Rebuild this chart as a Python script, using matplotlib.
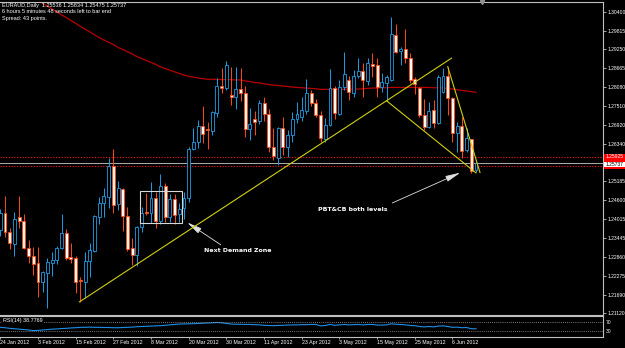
import matplotlib
matplotlib.use('Agg')
import matplotlib.pyplot as plt
from matplotlib.patches import Rectangle
import numpy as np

# ---------------- data (EURAUD daily) ----------------
tick_labels = ["24 Jan 2012", "3 Feb 2012", "15 Feb 2012", "27 Feb 2012", "8 Mar 2012",
               "20 Mar 2012", "30 Mar 2012", "11 Apr 2012", "23 Apr 2012", "3 May 2012",
               "15 May 2012", "25 May 2012", "6 Jun 2012"]
tick_bars = [0, 8, 16, 24, 32, 40, 48, 56, 64, 72, 80, 88, 96]

opens = [1.2368, 1.2420, 1.2361, 1.2324, 1.2407, 1.2396, 1.2312, 1.2289, 1.2266, 1.2209,
         1.2237, 1.2266, 1.2276, 1.2312, 1.2360, 1.2284, 1.2281, 1.2214, 1.2209, 1.2273,
         1.2305, 1.2409, 1.2450, 1.2471, 1.2565, 1.2447, 1.2494, 1.2411, 1.2312, 1.2291,
         1.2378, 1.2424, 1.2420, 1.2468, 1.2396, 1.2505, 1.2409, 1.2463, 1.2417, 1.2437,
         1.2468, 1.2617, 1.2638, 1.2689, 1.2678, 1.2673, 1.2729, 1.2811, 1.2804, 1.2783,
         1.2778, 1.2802, 1.2789, 1.2678, 1.2709, 1.2705, 1.2760, 1.2724, 1.2625, 1.2590,
         1.2682, 1.2625, 1.2661, 1.2709, 1.2717, 1.2735, 1.2789, 1.2760, 1.2722, 1.2647,
         1.2691, 1.2804, 1.2725, 1.2807, 1.2830, 1.2791, 1.2842, 1.2858, 1.2828, 1.2879,
         1.2876, 1.2807, 1.2822, 1.2830, 1.2968, 1.2919, 1.2924, 1.2897, 1.2832, 1.2804,
         1.2722, 1.2686, 1.2738, 1.2697, 1.2794, 1.2842, 1.2774, 1.2666, 1.2688, 1.2614,
         1.2647, 1.25536]
highs = [1.2433, 1.2474, 1.2374, 1.2423, 1.2474, 1.2418, 1.2338, 1.2317, 1.2317, 1.2243,
         1.2281, 1.2300, 1.2320, 1.2417, 1.2371, 1.2329, 1.2288, 1.2225, 1.2300, 1.2327,
         1.2414, 1.2471, 1.2497, 1.2589, 1.2617, 1.2520, 1.2498, 1.2439, 1.2343, 1.2381,
         1.2440, 1.2482, 1.2515, 1.2484, 1.2541, 1.2512, 1.2479, 1.2479, 1.2452, 1.2486,
         1.2625, 1.2681, 1.2707, 1.2750, 1.2701, 1.2735, 1.2835, 1.2866, 1.2888, 1.2871,
         1.2871, 1.2866, 1.2811, 1.2743, 1.2735, 1.2768, 1.2778, 1.2740, 1.2681, 1.2686,
         1.2715, 1.2676, 1.2731, 1.2762, 1.2778, 1.2832, 1.2799, 1.2770, 1.2733, 1.2712,
         1.2863, 1.2811, 1.2830, 1.2917, 1.2842, 1.2861, 1.2897, 1.2881, 1.2897, 1.2912,
         1.2897, 1.2850, 1.2845, 1.3023, 1.3002, 1.2932, 1.2986, 1.2912, 1.2840, 1.2809,
         1.2770, 1.2763, 1.2768, 1.2845, 1.2866, 1.2871, 1.2778, 1.2701, 1.2715, 1.2682,
         1.2648, 1.25834]
lows = [1.2350, 1.2348, 1.2309, 1.2289, 1.2374, 1.2310, 1.2268, 1.2230, 1.2163, 1.2177,
        1.2129, 1.2228, 1.2263, 1.2310, 1.2276, 1.2268, 1.2174, 1.2147, 1.2160, 1.2225,
        1.2301, 1.2387, 1.2409, 1.2435, 1.2422, 1.2430, 1.2366, 1.2304, 1.2261, 1.2258,
        1.2363, 1.2414, 1.2391, 1.2374, 1.2386, 1.2392, 1.2392, 1.2387, 1.2394, 1.2401,
        1.2455, 1.2614, 1.2620, 1.2637, 1.2617, 1.2661, 1.2717, 1.2789, 1.2799, 1.2753,
        1.2741, 1.2765, 1.2655, 1.2645, 1.2660, 1.2694, 1.2705, 1.2609, 1.2584, 1.2568,
        1.2599, 1.2594, 1.2639, 1.2699, 1.2704, 1.2725, 1.2750, 1.2715, 1.2640, 1.2640,
        1.2688, 1.2709, 1.2722, 1.2799, 1.2768, 1.2777, 1.2836, 1.2778, 1.2814, 1.2840,
        1.2778, 1.2793, 1.2768, 1.2828, 1.2914, 1.2876, 1.2882, 1.2820, 1.2787, 1.2717,
        1.2676, 1.2681, 1.2681, 1.2694, 1.2790, 1.2722, 1.2639, 1.2609, 1.2590, 1.2608,
        1.2545, 1.25475]
closes = [1.2421, 1.2361, 1.2327, 1.2402, 1.2396, 1.2312, 1.2289, 1.2264, 1.2207, 1.2238,
          1.2269, 1.2276, 1.2312, 1.2360, 1.2283, 1.2278, 1.2209, 1.2211, 1.2273, 1.2307,
          1.2411, 1.2452, 1.2473, 1.2565, 1.2445, 1.2497, 1.2412, 1.2310, 1.2291, 1.2378,
          1.2422, 1.2420, 1.2468, 1.2396, 1.2504, 1.2409, 1.2463, 1.2414, 1.2432, 1.2468,
          1.2617, 1.2638, 1.2689, 1.2664, 1.2676, 1.2730, 1.2811, 1.2804, 1.2876, 1.2778,
          1.2801, 1.2789, 1.2678, 1.2694, 1.2701, 1.2760, 1.2724, 1.2625, 1.2596, 1.2682,
          1.2625, 1.2661, 1.2709, 1.2724, 1.2738, 1.2789, 1.2758, 1.2722, 1.2650, 1.2691,
          1.2804, 1.2727, 1.2809, 1.2848, 1.2794, 1.2842, 1.2858, 1.2829, 1.2883, 1.2874,
          1.2807, 1.2825, 1.2838, 1.2971, 1.2917, 1.2925, 1.2897, 1.2830, 1.2818, 1.2722,
          1.2686, 1.2735, 1.2697, 1.2838, 1.2842, 1.2774, 1.2666, 1.2688, 1.2611, 1.2651,
          1.2551, 1.25737]
ma_values = [1.3146, 1.3137, 1.3128, 1.3119, 1.3110, 1.3101, 1.3092, 1.3084, 1.3075, 1.3066,
             1.3057, 1.3048, 1.3039, 1.3030, 1.3022, 1.3013, 1.3004, 1.2995, 1.2986, 1.2978,
             1.2969, 1.2960, 1.2953, 1.2946, 1.2939, 1.2930, 1.2924, 1.2917, 1.2910, 1.2902,
             1.2896, 1.2890, 1.2884, 1.2878, 1.2870, 1.2865, 1.2860, 1.2855, 1.2850, 1.2845,
             1.2841, 1.2839, 1.2836, 1.2834, 1.2832, 1.2832, 1.2832, 1.2831, 1.2831, 1.2831,
             1.2830, 1.2830, 1.2827, 1.2825, 1.2822, 1.2821, 1.2818, 1.2816, 1.2814, 1.2813,
             1.2811, 1.2810, 1.2808, 1.2807, 1.2806, 1.2805, 1.2804, 1.2803, 1.2801, 1.2801,
             1.2801, 1.2801, 1.2801, 1.2801, 1.2801, 1.2802, 1.2802, 1.2803, 1.2804, 1.2805,
             1.2805, 1.2806, 1.2806, 1.2807, 1.2807, 1.2807, 1.2807, 1.2807, 1.2807, 1.2807,
             1.2807, 1.2807, 1.2806, 1.2806, 1.2805, 1.2804, 1.2802, 1.2800, 1.2798, 1.2796,
             1.2794, 1.2792]
rsi_values = [46, 44, 41, 39, 37, 35, 33, 30, 31, 33,
              35, 37, 38, 40, 41, 43, 44, 46, 46, 47,
              46, 46, 45, 45, 44, 44, 45, 46, 47, 49,
              50, 51, 52, 53, 54, 56, 58, 60, 62, 63,
              63, 64, 65, 66, 67, 68, 70, 68, 65, 62,
              61, 61, 60, 60, 59, 58, 56, 55, 54, 55,
              56, 57, 58, 58, 59, 59, 60, 60, 53, 55,
              60, 56, 58, 60, 58, 59, 60, 58, 60, 60,
              57, 57, 58, 63, 61, 60, 58, 55, 54, 50,
              48, 50, 48, 52, 53, 50, 46, 47, 44, 45,
              39, 38.78]
price_ticks = [1.30400, 1.29815, 1.29250, 1.28665, 1.28080, 1.27510, 1.26920, 1.26340,
               1.25185, 1.24600, 1.24015, 1.23445, 1.22860, 1.22275, 1.21690, 1.21120]
level_upper = 1.25925
level_lower = 1.25660
bid_price = 1.25737
# trend lines (bar index, price)
trend_up = [(16.8, 1.2147), (95.8, 1.2897)]
trend_dn1 = [(82.0, 1.2766), (101.0, 1.2544)]
trend_dn2 = [(95.0, 1.2871), (101.85, 1.2545)]
zone_box = (29.66, 38.5, 1.2389, 1.2488)

# ---------------- figure ----------------
W, H = 625, 348
plt.rcParams['font.family'] = ['Liberation Sans', 'DejaVu Sans']
fig = plt.figure(figsize=(W / 100, H / 100), dpi=100, facecolor='black')

def fx(px):
    return px / W

def fy(py):
    return 1 - py / H

GRAY = '#c0c0c0'
BULL = '#1c9de6'
BEAR = '#ff4a14'
XMIN, XMAX = -0.064, 128.03
LAB = 3.6

ax = fig.add_axes([0, fy(315), fx(603.3), fy(1.5) - fy(315)])
ax.set_facecolor('black')
ax.set_xlim(XMIN, XMAX)
ax.set_ylim(1.21067, 1.30714)

n = len(opens)
x = np.arange(n)
bw = 0.62
for i in range(n):
    o, h, l, c = opens[i], highs[i], lows[i], closes[i]
    bull = c >= o
    col = BULL if bull else BEAR
    ax.vlines(i, l, h, color=col, lw=0.7, zorder=3)
    ax.add_patch(Rectangle((i - bw / 2, min(o, c)), bw, max(abs(c - o), 0.00003),
                           facecolor='black' if bull else '#fff6f0', edgecolor=col,
                           lw=0.6, zorder=4))

ax.plot(x, ma_values, color='#b80000', lw=0.9, zorder=2)

# levels
ax.axhline(level_upper, color='#ff1010', lw=0.8, ls=(0, (1, 1.5)), zorder=1)
ax.axhline(level_lower, color='#ff1010', lw=0.8, ls=(0, (1, 1.5)), zorder=1)
ax.axhline(bid_price, color='#b0b0b0', lw=0.7, zorder=1)

# trend lines
for seg in (trend_up, trend_dn1, trend_dn2):
    ax.plot([seg[0][0], seg[1][0]], [seg[0][1], seg[1][1]], color='#cfcf10', lw=0.8, zorder=5)

# demand zone box
ax.add_patch(Rectangle((zone_box[0], zone_box[2]), zone_box[1] - zone_box[0],
                       zone_box[3] - zone_box[2], fill=False, edgecolor='#d8d8d8', lw=0.8, zorder=6))

# annotations
ax.annotate('', xy=(39.2, 1.2396), xytext=(47.3, 1.2318),
            arrowprops=dict(arrowstyle='-|>,head_length=0.9,head_width=0.18', color='#e0e0e0', lw=0.6))
ax.text(50.5, 1.2304, 'Next Demand Zone', color='white', fontsize=4.5, fontweight='bold',
        family='DejaVu Sans', ha='center', va='center', zorder=7)
ax.annotate('', xy=(98.2, 1.2548), xytext=(82.7, 1.2448),
            arrowprops=dict(arrowstyle='-|>,head_length=0.9,head_width=0.18', color='#e0e0e0', lw=0.6))
ax.text(74.9, 1.2430, 'PBT&CB both levels', color='white', fontsize=4.5, fontweight='bold',
        family='DejaVu Sans', ha='center', va='center', zorder=7)

# axes styling
ax.spines['left'].set_visible(False)
for s in ['top', 'right', 'bottom']:
    ax.spines[s].set_color(GRAY)
    ax.spines[s].set_linewidth(0.8)
ax.set_xticks([])
ax.yaxis.tick_right()
ax.set_yticks(price_ticks)
ax.set_yticklabels(['%.5f' % p for p in price_ticks])
ax.tick_params(axis='y', colors=GRAY, labelcolor='white', length=2, width=0.6,
               labelsize=LAB, pad=0.8)

# chart shift marker
ax.plot([102.3], [1.30714], marker='v', ms=3, color='#909090', clip_on=False, zorder=8)

# header text
fig.text(fx(2), fy(5.3), 'EURAUD,Daily  1.25536 1.25834 1.25475 1.25737', color='white',
         fontsize=4.0, va='center', ha='left')
fig.text(fx(2), fy(11.7), '6 hours 5 minutes 48 seconds left to bar end', color='white',
         fontsize=4.0, va='center', ha='left')
fig.text(fx(2), fy(18.3), 'Spread: 43 points.', color='white', fontsize=4.0, va='center', ha='left')

# price boxes at right
fig.patches.append(Rectangle((fx(603.6), fy(169)), fx(21.4), fy(154) - fy(169), transform=fig.transFigure,
                             facecolor='#ff0000', edgecolor='none', figure=fig))
fig.text(fx(605.5), fy(157), '%.5f' % level_upper, color='white', fontsize=LAB, va='center', ha='left')
fig.patches.append(Rectangle((fx(604), fy(166.8)), fx(21), fy(161.5) - fy(166.8), transform=fig.transFigure,
                             facecolor='white', edgecolor='none', figure=fig))
fig.text(fx(605.5), fy(164.2), '%.5f' % bid_price, color='black', fontsize=LAB, va='center', ha='left')

# ---------------- RSI pane ----------------
ar = fig.add_axes([0, fy(336.7), fx(603.3), fy(316.3) - fy(336.7)])
ar.set_facecolor('black')
ar.set_xlim(XMIN, XMAX)
ar.set_ylim(0, 100)
ar.plot(x, rsi_values, color='#1e8fe8', lw=0.8)
ar.axhline(70, color='#a0a0a0', lw=0.6, ls=(0, (1, 1.5)))
ar.axhline(30, color='#a0a0a0', lw=0.6, ls=(0, (1, 1.5)))
ar.text(0.5, 77, 'RSI(14) 38.7769', color='white', fontsize=3.9, va='center', ha='left',
        bbox=dict(facecolor='black', edgecolor='none', pad=0.3))
ar.spines['left'].set_visible(False)
for s in ['top', 'right', 'bottom']:
    ar.spines[s].set_color(GRAY)
    ar.spines[s].set_linewidth(0.8)
ar.yaxis.tick_right()
ar.set_yticks([70, 30])
ar.set_yticklabels(['70', '30'])
ar.tick_params(axis='y', colors=GRAY, labelcolor='white', length=0, labelsize=LAB, pad=2)
ar.set_xticks(tick_bars)
ar.set_xticklabels(tick_labels)
ar.tick_params(axis='x', colors=GRAY, labelcolor='white', length=1.5, width=0.6,
               labelsize=3.8, pad=0.8)
for lab in ar.get_xticklabels():
    lab.set_ha('left')

fig.savefig('out.png', dpi=100, facecolor='black')
